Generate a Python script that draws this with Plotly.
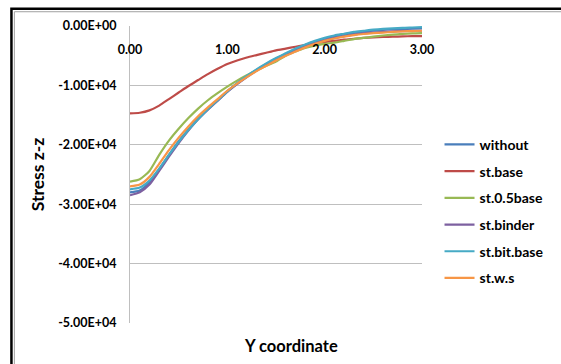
import plotly.graph_objects as go

x_coord = [0.0, 0.1, 0.2, 0.3, 0.4, 0.5, 0.6, 0.7, 0.8, 0.9, 1.0, 1.1, 1.2, 1.3, 1.4, 1.5,
           1.6, 1.7, 1.8, 1.9, 2.0, 2.1, 2.2, 2.3, 2.4, 2.5, 2.6, 2.7, 2.8, 2.9, 3.0]

# values in units of 1E+04
without = [-2.80, -2.77, -2.63, -2.41, -2.17, -1.94, -1.74, -1.56, -1.40, -1.25, -1.10, -0.97,
           -0.85, -0.74, -0.64, -0.55, -0.47, -0.39, -0.32, -0.26, -0.21, -0.17, -0.14, -0.115,
           -0.095, -0.08, -0.065, -0.055, -0.05, -0.045, -0.04]
st_base = [-1.47, -1.46, -1.42, -1.34, -1.23, -1.12, -1.01, -0.91, -0.81, -0.72, -0.64, -0.58,
           -0.53, -0.49, -0.45, -0.41, -0.38, -0.35, -0.32, -0.295, -0.27, -0.25, -0.23, -0.215,
           -0.20, -0.19, -0.185, -0.18, -0.175, -0.17, -0.17]
st_05base = [-2.62, -2.58, -2.44, -2.17, -1.93, -1.73, -1.55, -1.39, -1.25, -1.13, -1.02, -0.92,
             -0.83, -0.75, -0.67, -0.60, -0.50, -0.43, -0.37, -0.33, -0.30, -0.28, -0.25, -0.22,
             -0.20, -0.18, -0.16, -0.145, -0.135, -0.125, -0.12]
st_binder = [-2.85, -2.80, -2.67, -2.44, -2.20, -1.97, -1.76, -1.57, -1.41, -1.26, -1.11, -0.98,
             -0.86, -0.75, -0.65, -0.56, -0.48, -0.41, -0.34, -0.285, -0.24, -0.20, -0.17, -0.145,
             -0.125, -0.11, -0.10, -0.09, -0.085, -0.08, -0.08]
st_bit_base = [-2.75, -2.72, -2.60, -2.40, -2.17, -1.95, -1.75, -1.57, -1.40, -1.25, -1.10, -0.96,
               -0.84, -0.73, -0.63, -0.54, -0.46, -0.38, -0.31, -0.25, -0.20, -0.16, -0.13, -0.10,
               -0.08, -0.06, -0.05, -0.04, -0.03, -0.025, -0.02]
st_ws = [-2.70, -2.67, -2.54, -2.32, -2.09, -1.88, -1.69, -1.52, -1.37, -1.23, -1.09, -0.97,
         -0.86, -0.76, -0.67, -0.58, -0.50, -0.43, -0.36, -0.30, -0.25, -0.21, -0.18, -0.155,
         -0.135, -0.12, -0.11, -0.10, -0.09, -0.085, -0.08]

series_names = ["without", "st.base", "st.0.5base", "st.binder", "st.bit.base", "st.w.s"]
series_values = [without, st_base, st_05base, st_binder, st_bit_base, st_ws]
colors = ["#4A7EBB", "#BE4B48", "#98B954", "#7D60A0", "#46AAC5", "#F79646"]

y_tick_vals = [0, -10000, -20000, -30000, -40000, -50000]
y_tick_text = ["0.00E+00", "-1.00E+04", "-2.00E+04", "-3.00E+04", "-4.00E+04", "-5.00E+04"]
x_tick_vals = [0, 1, 2, 3]
x_tick_text = ["0.00", "1.00", "2.00", "3.00"]

FONT = "Lato"

fig = go.Figure()
for name, vals, col in zip(series_names, series_values, colors):
    fig.add_trace(go.Scatter(
        x=x_coord, y=[v * 1e4 for v in vals], mode="lines", name=name,
        legendgroup=name,
        line=dict(color=col, width=2.2, shape="spline", smoothing=0.6),
    ))

fig.update_layout(
    width=561, height=364,
    margin=dict(l=130, r=135, t=26, b=41),
    paper_bgcolor="white", plot_bgcolor="white",
    font=dict(family=FONT, size=12, color="black"),
    showlegend=True,
    legend=dict(x=1.06, y=0.376, xanchor="left", yanchor="middle",
                font=dict(family=FONT, size=14, color="black", weight="bold"),
                tracegroupgap=5.5, bgcolor="rgba(0,0,0,0)", itemwidth=30),
    xaxis=dict(range=[0, 3], tickvals=x_tick_vals, ticktext=x_tick_text,
               showgrid=False, zeroline=False, showline=False,
               anchor="free", position=0.95, side="bottom", ticks="",
               tickfont=dict(family=FONT, size=12.5, color="black", weight="bold")),
    yaxis=dict(range=[-50000, 0], tickvals=y_tick_vals, ticktext=y_tick_text,
               showgrid=True, gridcolor="#BFBFBF", gridwidth=1,
               zeroline=False, showline=True, linecolor="#BFBFBF", linewidth=1,
               ticks="", ticklabelstandoff=10,
               tickfont=dict(family=FONT, size=12.5, color="black", weight="bold"),
               title=dict(text="Stress z-z", standoff=9,
                          font=dict(family=FONT, size=17.5, color="black", weight="bold"))),
    annotations=[dict(text="Y coordinate", xref="paper", yref="paper", x=0.551, y=-0.078,
                      xanchor="center", yanchor="middle", showarrow=False,
                      font=dict(family=FONT, size=16.5, color="black", weight="bold"))],
    shapes=[
        dict(type="rect", xref="paper", yref="paper", x0=-0.406, x1=3, y0=-3, y1=1.058,
             line=dict(color="black", width=2.5), fillcolor="rgba(0,0,0,0)", layer="below"),
        dict(type="rect", xref="paper", yref="paper", x0=-0.396, x1=3, y0=-3, y1=1.048,
             line=dict(color="#A0A0A0", width=1), fillcolor="rgba(0,0,0,0)", layer="below"),
    ],
)

fig.write_html("out.html")
